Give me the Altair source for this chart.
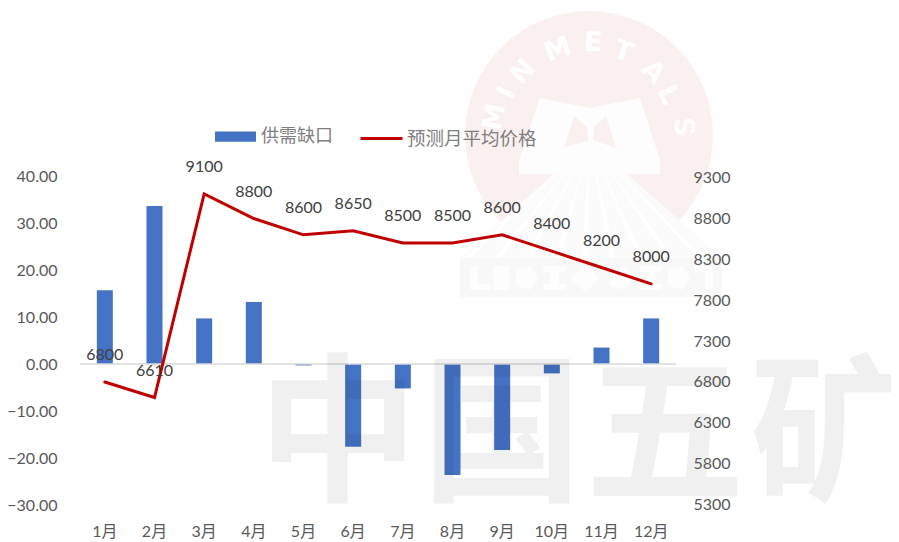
import altair as alt
import pandas as pd

months = ["1月", "2月", "3月", "4月", "5月", "6月", "7月", "8月", "9月", "10月", "11月", "12月"]
gap = [15.7, 33.6, 9.7, 13.2, -0.3, -17.6, -5.2, -23.6, -18.3, -2.0, 3.5, 9.7]
price = [6800, 6610, 9100, 8800, 8600, 8650, 8500, 8500, 8600, 8400, 8200, 8000]
left_ticks = [-30, -20, -10, 0, 10, 20, 30, 40]
right_ticks = [5300, 5800, 6300, 6800, 7300, 7800, 8300, 8800, 9300]
series_bar = "供需缺口"
series_line = "预测月平均价格"

FONT = "Lato, 'Noto Sans CJK SC', sans-serif"
L, T = 80, 176          # plot origin in page pixels
W, H = 596, 329
ORIGIN = 8
PRICE_DOMAIN = [5295, 9320]

df = pd.DataFrame({"month": months, "gap": gap, "price": price,
                   "s1": series_bar, "s2": series_line})
one = alt.Data(values=[{"a": 1}])

# ---- watermark logo (decoration) ----
LC = (590, 155)
LR = 150


def poly(*rings):
    out = ""
    for pts in rings:
        out += "M" + "L".join(f"{(x-LC[0])/LR:.4f},{(y-LC[1])/LR:.4f}" for x, y in pts) + "Z"
    return out


def deco(path, color):
    return alt.Chart(one).mark_point(shape=path, filled=True, fill=color, opacity=1,
                                     strokeWidth=0, size=(2 * LR) ** 2).encode(
        x=alt.value(LC[0] - L), y=alt.value(LC[1] - T))


disc = alt.Chart(one).mark_point(shape="circle", filled=True, fill="#faf0f0", opacity=1,
                                 strokeWidth=0, size=248 ** 2).encode(
    x=alt.value(589 - L), y=alt.value(135 - T))
m_outer = deco(poly([(540, 98), (590, 108), (640, 98), (660, 160), (660, 174), (519, 174), (519, 160)]), "#fdfdfd")
m_inner = deco(poly([(574, 116), (564, 148), (588, 140), (587, 127)],
                    [(606, 116), (616, 148), (593, 140), (594, 127)]), "#faf0f0")
pyramid = deco(poly([(590, 141), (722, 258), (722, 297), (460, 297), (460, 258)]), "#fbfbfb")
rays = deco(poly(*[[(590, 142), (590 + dx, 258), (590 + dx + 5, 258)]
                   for dx in (-125, -95, -65, -35, -8, 20, 48, 78, 108)]), "#ffffff")
base = deco(poly([(460, 258), (722, 258), (722, 297), (460, 297)]), "#f8f8f8")
base_white = deco(poly([(470, 266), (478, 266), (478, 284), (490, 284), (490, 290), (470, 290)],
                       [(493, 266), (509, 266), (509, 290), (493, 290)],
                       [(516, 270), (530, 266), (538, 278), (530, 290), (516, 286)],
                       [(543, 266), (566, 266), (566, 272), (559, 272), (559, 284), (566, 284), (566, 290), (543, 290), (543, 284), (550, 284), (550, 272), (543, 272)],
                       [(585, 266), (600, 278), (585, 292), (570, 278)],
                       [(610, 270), (625, 266), (633, 278), (625, 290), (610, 286)],
                       [(640, 266), (662, 266), (662, 272), (655, 272), (655, 284), (662, 284), (662, 290), (640, 290), (640, 284), (647, 284), (647, 272), (640, 272)],
                       [(668, 270), (682, 266), (690, 278), (682, 290), (668, 286)],
                       [(695, 266), (713, 266), (713, 290), (705, 290), (705, 272), (695, 272)]), "#fdfdfd")

letters = pd.DataFrame({
    "ch": list("MINMETALS"),
    "px": [495 - L, 507 - L, 523 - L, 558 - L, 593 - L, 623 - L, 653 - L, 668 - L, 683 - L],
    "py": [117 - T, 93 - T, 72 - T, 50 - T, 43 - T, 52 - T, 72 - T, 95 - T, 127 - T],
    "rot": [281, 297, 314, 340, 3, 22, 45, 63, 85],
})
logo_text = alt.Chart(letters).mark_text(font="DejaVu Sans", fontWeight="bold", fontSize=27,
                                         color="#ffffff", baseline="middle", align="center").encode(
    x=alt.X("px:Q", scale=None, axis=None), y=alt.Y("py:Q", scale=None, axis=None),
    angle=alt.Angle("rot:Q", scale=None), text="ch:N")

# ---- data marks ----
bars = alt.Chart(df).mark_bar(size=16, color="#4472c4").encode(
    x=alt.X("month:N", sort=months, scale=alt.Scale(paddingInner=0, paddingOuter=0),
            title=None,
            axis=alt.Axis(orient="bottom", labelAngle=0, domain=False, ticks=False, labelPadding=18,
                          labelFontSize=16, labelColor="#595959", labelFont=FONT, grid=False, zindex=1)),
    y=alt.Y("gap:Q", scale=alt.Scale(domain=[-30, 40], nice=False, zero=False), title=None,
            axis=alt.Axis(orient="left", values=left_ticks, format=".2f", domain=False, ticks=False,
                          grid=False, labelPadding=23, labelFontSize=16, labelColor="#595959",
                          labelFont=FONT, zindex=1)),
    color=alt.Color("s1:N", scale=alt.Scale(range=["#4472c4"]), title=None,
                    legend=alt.Legend(orient="none", legendX=135, legendY=-52 - 8, symbolType="M-1,-0.25H1V0.25H-1Z",
                                      symbolSize=1681, symbolStrokeWidth=0, symbolOpacity=1,
                                      labelFontSize=18, labelColor="#7f7f7f", labelFont=FONT,
                                      labelOffset=5, padding=0)),
)
zero = alt.Chart(pd.DataFrame({"z": [0]})).mark_rule(color="#d9d9d9", strokeWidth=1.3).encode(
    y=alt.Y("z:Q", scale=alt.Scale(domain=[-30, 40], nice=False, zero=False), axis=None))

price_y = alt.Y("price:Q", scale=alt.Scale(domain=PRICE_DOMAIN, nice=False, zero=False), title=None)
line = alt.Chart(df).mark_line(strokeWidth=3, strokeCap="round", strokeJoin="miter").encode(
    x=alt.X("month:N", sort=months, title=None),
    y=alt.Y("price:Q", scale=alt.Scale(domain=PRICE_DOMAIN, nice=False, zero=False), title=None,
            axis=alt.Axis(orient="right", values=right_ticks, format="d", domain=False, ticks=False,
                          grid=False, labelPadding=17, labelFontSize=16, labelColor="#595959",
                          labelFont=FONT, zindex=1)),
    color=alt.Color("s2:N", scale=alt.Scale(range=["#c00000"]), title=None,
                    legend=alt.Legend(orient="none", legendX=279, legendY=-52 - 8, symbolType="stroke",
                                      symbolSize=1764, symbolStrokeWidth=3, labelFontSize=18.5,
                                      labelColor="#7f7f7f", labelFont=FONT, labelOffset=3, padding=0)),
)
labels = alt.Chart(df).mark_text(dy=-27, fontSize=16, color="#404040", font=FONT).encode(
    x=alt.X("month:N", sort=months, title=None), y=price_y.axis(None), text=alt.Text("price:Q", format="d"))

# ---- large translucent watermark ----
wm = pd.DataFrame({"ch": list("中国五矿"),
                   "px": [338 - L, 502 - L, 665 - L, 830 - L],
                   "py": [441 - T] * 4})
wm_text = alt.Chart(wm).mark_text(font="Noto Sans CJK SC", fontWeight="bold", fontSize=160,
                                  color="#000000", opacity=0.055, baseline="middle", align="center").encode(
    x=alt.X("px:Q", scale=None, axis=None), y=alt.Y("py:Q", scale=None, axis=None), text="ch:N")

chart = alt.layer(disc, pyramid, rays, base, base_white, m_outer, m_inner, logo_text,
                  bars, zero, line, labels, wm_text).resolve_scale(
    y="independent", color="independent"
).properties(
    width=W, height=H,
    autosize=alt.AutoSizeParams(type="none"),
    padding={"left": L - ORIGIN, "top": T - ORIGIN, "right": 891 - L - W, "bottom": 37},
    background="#ffffff",
).configure_view(stroke=None)

chart.save("out.html", embed_options={"renderer": "svg", "actions": False})
